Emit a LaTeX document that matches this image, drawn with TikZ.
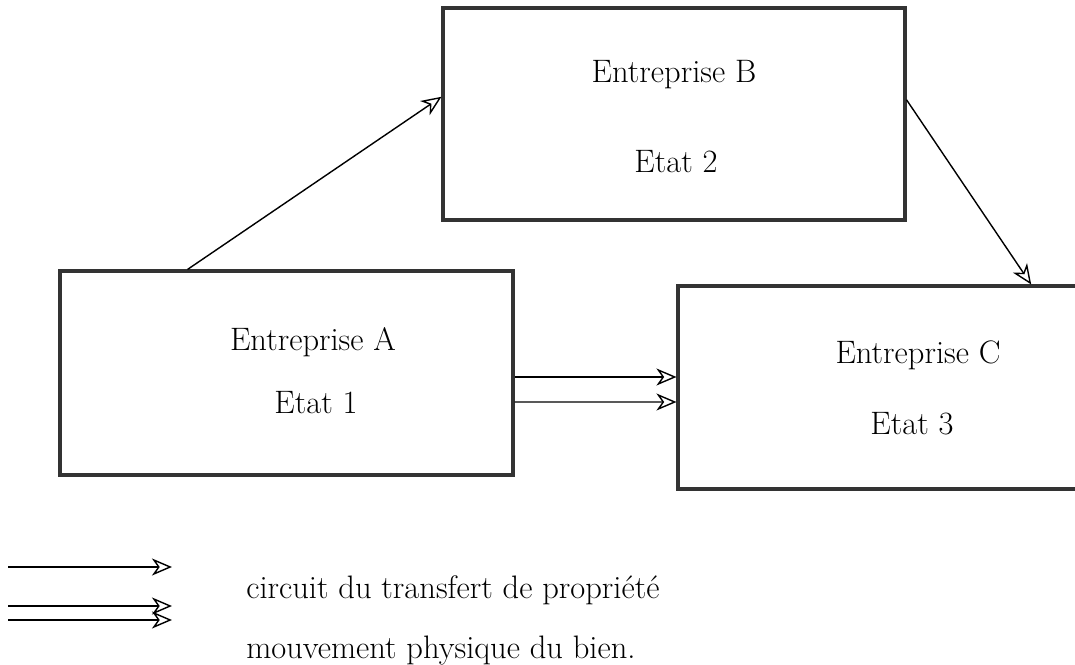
\documentclass[tikz,border=0pt]{standalone}
\usetikzlibrary{arrows.meta,calc}
\tikzset{
  boite/.style={draw=black!80, line width=1.8pt, minimum width=#1, inner sep=0pt},
  texte/.style={font=\fontsize{18.5}{22}\selectfont, inner sep=0pt},
  fleche/.style={-{Stealth[open, length=4mm, width=3.4mm, inset=1.2mm]}, line width=0.8pt},
}
\begin{document}
\begin{tikzpicture}[x=0.02cm, y=-0.02cm]
\useasboundingbox (0,0) rectangle (1075,665);
% les trois entreprises
\node[boite=9.06cm, minimum height=4.08cm] (A) at (286.5,373) {};
\node[boite=9.24cm, minimum height=4.24cm] (B) at (674,114) {};
\node[boite=8.00cm, minimum height=4.06cm] (C) at (878,387.5) {};
\node[texte] (A1) at (313,342) {Entreprise A};
\node[texte] (A2) at (316,403) {Etat 1};
\node[texte] (B1) at (674,75) {Entreprise B};
\node[texte] (B2) at (676,162) {Etat 2};
\node[texte] (C1) at (918,355) {Entreprise C};
\node[texte] (C2) at (912,424) {Etat 3};
% transfert de propriete
\draw[fleche] ($(A.north west)!0.283!(A.north east)$) -- ($(B.north west)!0.420!(B.south west)$);
\draw[fleche] ($(B.north east)!0.434!(B.south east)$) -- ($(C.north west)!0.880!(C.north east)$);
% mouvement physique
\draw[fleche] ($(A.east)+(0,4)$) -- ($(C.west)+(0,-10.5)$);
\draw[fleche] ($(A.east)+(0,29)$) -- ($(C.west)+(0,14.5)$);
% legende
\coordinate (L1a) at (8,567);   \coordinate (L1b) at (172,567);
\coordinate (L2a) at (8,606);   \coordinate (L2b) at (172,606);
\coordinate (L3a) at (8,620);   \coordinate (L3b) at (172,620);
\draw[fleche] (L1a) -- (L1b);
\draw[fleche] (L2a) -- (L2b);
\draw[fleche] (L3a) -- (L3b);
\node[texte, anchor=west] (T1) at (246,590) {circuit du transfert de propriété};
\node[texte, anchor=west] (T2) at (246,651) {mouvement physique du bien.};
\end{tikzpicture}
\end{document}
